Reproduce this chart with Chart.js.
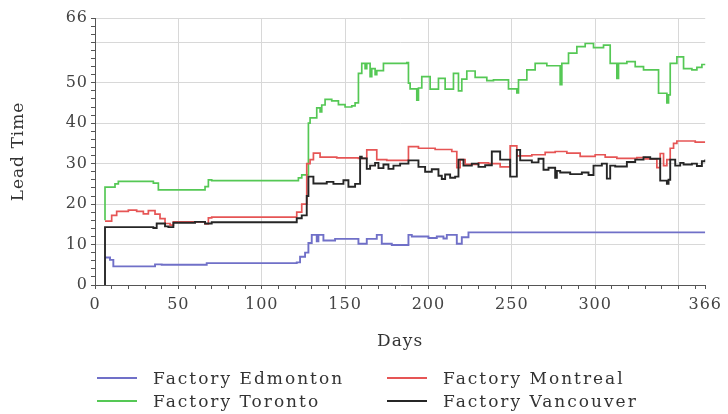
<!DOCTYPE html>
<html>
<head>
<meta charset="utf-8">
<script src="https://cdn.jsdelivr.net/npm/chart.js@4.4.1/dist/chart.umd.min.js"></script>
<style>
  html, body { margin: 0; padding: 0; background: #fff; }
  #wrap { position: relative; width: 728px; height: 414px; overflow: hidden; }
  #c { position: absolute; left: 0; top: 0; }
  #legend {
    position: absolute; left: 97px; top: 366px;
    display: grid; grid-template-columns: 290px 270px;
    font-family: "DejaVu Serif", serif; font-size: 17px; letter-spacing: 2px; color: #333;
  }
  .item { display: flex; align-items: center; height: 23px; white-space: nowrap; }
  .swatch { display: inline-block; width: 40px; height: 2px; margin-right: 16px; }
</style>
</head>
<body>
<div id="wrap">
  <canvas id="c" width="728" height="414"></canvas>
  <div id="legend"></div>
</div>
<script>
// Lead time per factory over the year: [day, lead time] change points (held until the next point)
const edmonton = [
  [6, 6.8], [9, 6.2], [11, 4.6], [36, 5.1], [40, 5.0], [67, 5.4], [121, 5.6], [123, 7.0], [126, 8.0],
  [128, 10.4], [130, 12.4], [133, 10.8], [134, 12.4], [137, 11.0], [144, 11.4], [158, 10.2], [163, 11.4],
  [169, 12.4], [172, 10.2], [178, 9.9], [188, 12.4], [190, 12.0], [200, 11.6], [205, 12.0], [209, 11.5],
  [211, 12.4], [217, 10.2], [220, 11.8], [224, 13.0], [366, 13.0]
];
const montreal = [
  [6, 15.8], [10, 17.2], [13, 18.2], [20, 18.5], [25, 18.2], [29, 17.6], [32, 18.4], [36, 17.5], [39, 16.4],
  [42, 15.2], [45, 14.8], [47, 15.6], [66, 15.1], [68, 16.6], [70, 16.8], [121, 18.0], [124, 20.0],
  [127, 30.0], [129, 31.0], [131, 32.6], [135, 31.6], [145, 31.4], [158, 31.3], [163, 33.4], [169, 31.0],
  [175, 30.8], [188, 34.2], [194, 33.8], [204, 33.5], [214, 33.0], [217, 29.0], [219, 31.0], [222, 29.8],
  [230, 30.2], [236, 30.0], [243, 29.2], [249, 34.4], [253, 31.9], [262, 32.2], [270, 32.8], [276, 33.0],
  [283, 32.6], [291, 31.8], [300, 32.2], [306, 31.6], [313, 31.3], [325, 31.5], [330, 31.2], [337, 29.0],
  [339, 32.5], [341, 29.5], [343, 31.0], [345, 33.8], [347, 35.0], [349, 35.6], [360, 35.3], [366, 35.3]
];
const toronto = [
  [6, 16.0], [6, 24.2], [12, 25.0], [14, 25.6], [35, 25.2], [38, 23.5], [66, 24.3], [68, 26.0], [70, 25.8],
  [122, 26.5], [124, 27.2], [128, 40.0], [129, 41.3], [133, 43.8], [135, 42.8], [136, 44.5], [138, 45.9],
  [142, 45.5], [146, 44.6], [150, 44.0], [154, 44.3], [156, 45.0], [158, 52.3], [160, 54.8], [162, 53.5],
  [163, 54.8], [165, 51.5], [166, 53.5], [168, 52.0], [169, 53.0], [173, 54.8], [187, 55.0], [188, 49.9],
  [189, 48.5], [193, 45.7], [194, 48.7], [196, 51.5], [201, 48.4], [206, 51.1], [210, 48.4], [215, 52.3],
  [218, 48.0], [220, 50.9], [223, 52.9], [228, 51.3], [235, 50.5], [239, 50.7], [248, 48.5], [253, 47.5],
  [254, 50.7], [259, 53.2], [264, 54.8], [271, 54.2], [279, 49.5], [280, 54.8], [284, 57.3], [289, 58.9],
  [294, 59.7], [299, 58.7], [305, 59.3], [309, 54.8], [313, 51.1], [314, 54.8], [319, 55.2], [324, 54.0],
  [329, 53.2], [338, 47.4], [343, 45.0], [344, 47.0], [345, 54.8], [349, 56.4], [353, 53.5], [358, 53.2],
  [361, 53.8], [364, 54.5], [366, 54.7]
];
const vancouver = [
  [6, 0], [6, 14.3], [35, 14.1], [37, 15.2], [42, 14.5], [44, 14.3], [47, 15.4], [60, 15.6], [66, 15.2],
  [70, 15.5], [121, 16.5], [124, 17.2], [127, 22.0], [128, 26.8], [131, 25.1], [139, 25.5], [143, 25.0],
  [149, 25.9], [152, 24.3], [156, 25.0], [159, 31.7], [160, 31.3], [163, 28.7], [165, 29.5], [168, 30.2],
  [170, 28.9], [173, 29.8], [176, 28.7], [179, 29.5], [183, 30.0], [188, 30.8], [194, 29.2], [198, 28.0],
  [202, 28.6], [206, 27.0], [208, 26.2], [210, 27.3], [213, 26.5], [216, 26.8], [218, 31.0], [221, 29.5],
  [226, 30.0], [230, 29.2], [234, 29.6], [238, 33.0], [243, 31.0], [249, 26.8], [253, 33.4], [255, 30.8],
  [262, 30.3], [266, 31.2], [269, 28.5], [272, 29.0], [276, 26.5], [277, 28.2], [279, 27.8], [285, 27.4],
  [292, 27.8], [296, 27.2], [299, 29.5], [304, 30.0], [307, 26.3], [309, 29.5], [312, 29.3], [319, 30.4],
  [324, 31.0], [329, 31.6], [333, 31.2], [339, 25.8], [343, 25.0], [344, 26.0], [345, 31.0], [348, 29.5],
  [351, 30.2], [353, 29.8], [358, 30.0], [361, 29.4], [364, 30.6], [366, 31.0]
];

const seriesNames = ['Factory Edmonton', 'Factory Montreal', 'Factory Toronto', 'Factory Vancouver'];
const seriesColors = ['#7070c8', '#e65555', '#55c855', '#262626'];
const seriesWidths = [1.9, 1.7, 1.7, 1.9];
const xTickLabels = [0, 50, 100, 150, 200, 250, 300, 366];
const yTickLabels = [0, 10, 20, 30, 40, 50, 66];
const xMinorStep = 10;
const yMinorStep = 2;
const xMax = 366;
const yMax = 66;

const toPoints = rows => rows.map(([x, y]) => ({ x, y }));
const allSeries = [edmonton, montreal, toronto, vancouver];
const drawOrder = [4, 2, 3, 1];

const FONT = '"DejaVu Serif", serif';

// Slightly widen glyph spacing of canvas text (ticks and axis titles)
const spacingPlugin = {
  id: 'spacing',
  beforeLayout(chart) { chart.ctx.letterSpacing = '1px'; },
  beforeDraw(chart) { chart.ctx.letterSpacing = '1px'; }
};

new Chart(document.getElementById('c'), {
  type: 'line',
  data: {
    datasets: allSeries.map((rows, i) => ({
      label: seriesNames[i],
      data: toPoints(rows),
      borderColor: seriesColors[i],
      backgroundColor: seriesColors[i],
      borderWidth: seriesWidths[i],
      pointRadius: 0,
      stepped: true,
      fill: false,
      order: drawOrder[i]
    }))
  },
  options: {
    responsive: false,
    animation: false,
    layout: { padding: { left: 8, top: 18, right: 21, bottom: 54 } },
    plugins: { legend: { display: false }, tooltip: { enabled: false } },
    scales: {
      x: {
        type: 'linear', min: 0, max: xMax,
        afterFit(s) { s.height = 75; },
        afterBuildTicks(s) {
          const t = [];
          for (let v = 0; v < xMax; v += xMinorStep) t.push({ value: v });
          t.push({ value: xMax });
          s.ticks = t;
        },
        ticks: {
          autoSkip: false, maxRotation: 0, padding: 6,
          color: '#444', font: { family: FONT, size: 16 },
          callback: v => xTickLabels.includes(v) ? String(v) : ''
        },
        grid: {
          color: c => (c.tick && c.tick.value % 50 === 0 && c.tick.value > 0) ? '#d8d8d8' : 'rgba(0,0,0,0)',
          tickColor: '#555', tickLength: 4, lineWidth: 1
        },
        border: { display: true, color: '#555', width: 1 },
        title: { display: true, text: 'Days', color: '#333', font: { family: FONT, size: 17 }, padding: { top: 0, bottom: 8 } }
      },
      y: {
        type: 'linear', min: 0, max: yMax,
        afterFit(s) { s.width = 87; },
        afterBuildTicks(s) {
          const t = [];
          for (let v = 0; v <= yMax; v += yMinorStep) t.push({ value: v });
          s.ticks = t;
        },
        ticks: {
          autoSkip: false, padding: 3,
          color: '#444', font: { family: FONT, size: 16 },
          callback: v => yTickLabels.includes(v) ? String(v) : ''
        },
        grid: {
          color: c => (c.tick && c.tick.value > 0 && (c.tick.value % 10 === 0 || c.tick.value === yMax)) ? '#d8d8d8' : 'rgba(0,0,0,0)',
          tickColor: '#555', tickLength: 4, lineWidth: 1
        },
        border: { display: true, color: '#555', width: 1 },
        title: { display: true, text: 'Lead Time', color: '#333', font: { family: FONT, size: 17 }, padding: { top: 0, bottom: 4 } }
      }
    }
  },
  plugins: [spacingPlugin]
});

// Legend: two columns, row-major order
const legend = document.getElementById('legend');
seriesNames.forEach((name, i) => {
  const item = document.createElement('div');
  item.className = 'item';
  const sw = document.createElement('span');
  sw.className = 'swatch';
  sw.style.background = seriesColors[i];
  item.appendChild(sw);
  item.appendChild(document.createTextNode(name));
  legend.appendChild(item);
});
</script>
</body>
</html>
